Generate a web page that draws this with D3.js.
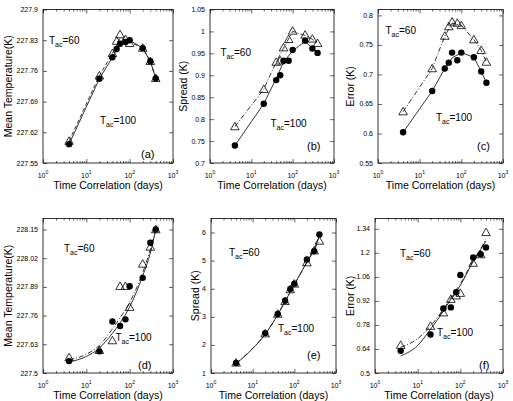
<!DOCTYPE html>
<html>
<head>
<meta charset="utf-8">
<script src="https://cdn.jsdelivr.net/npm/d3@7"></script>
<style>
  body { margin: 0; background: #fff; }
  text { font-family: "Liberation Sans", Arial, Helvetica, sans-serif; fill: #000; }
</style>
</head>
<body>
<div id="chart"></div>
<script>
// x values (days) shared by all panels
var days = [4, 20, 40, 50, 60, 80, 100, 200, 300, 400];
var lineDaysTop = [4, 20, 40, 60, 100, 200, 300, 400];
var lineDaysBottom = [4, 10, 20, 40, 60, 100, 200, 300, 400];
var xTicks = [1, 10, 100, 1000];
var xTickExp = ["0", "1", "2", "3"];

// (a) mean temperature
var tempA100 = [227.593, 227.742, 227.791, 227.81, 227.822, 227.826, 227.83, 227.812, 227.782, 227.743];
var tempA60 = [227.60, 227.749, 227.80, 227.828, 227.843, 227.832, 227.823, 227.812, 227.782, 227.743];
var tempA100Line = [227.593, 227.742, 227.791, 227.822, 227.83, 227.812, 227.782, 227.743];
var tempA60Line = [227.60, 227.749, 227.80, 227.835, 227.826, 227.812, 227.782, 227.743];
var tempTicksA = [227.55, 227.62, 227.69, 227.76, 227.83, 227.9];

// (b) spread
var spreadB100 = [0.740, 0.835, 0.889, 0.900, 0.933, 0.933, 0.958, 0.979, 0.961, 0.951];
var spreadB60 = [0.783, 0.868, 0.930, 0.933, 0.963, 0.982, 1.001, 0.992, 0.983, 0.973];
var spreadB100Line = [0.740, 0.835, 0.893, 0.930, 0.956, 0.977, 0.962, 0.952];
var spreadB60Line = [0.783, 0.868, 0.930, 0.962, 1.000, 0.991, 0.982, 0.973];
var spreadTicksB = [0.7, 0.75, 0.8, 0.85, 0.9, 0.95, 1, 1.05];

// (c) error
var errorC100 = [0.602, 0.672, 0.710, 0.720, 0.737, 0.724, 0.737, 0.729, 0.705, 0.686];
var errorC60 = [0.637, 0.710, 0.765, 0.781, 0.789, 0.787, 0.783, 0.759, 0.741, 0.721];
var errorC100Line = [0.602, 0.672, 0.710, 0.728, 0.737, 0.729, 0.705, 0.686];
var errorC60Line = [0.637, 0.710, 0.765, 0.787, 0.783, 0.759, 0.741, 0.721];
var errorTicksC = [0.55, 0.6, 0.65, 0.7, 0.75, 0.8];

// (d) mean temperature
var tempD100 = [227.554, 227.598, 227.733, null, 227.713, 227.743, 227.893, 227.931, 228.09, 228.15];
var tempD60 = [227.57, 227.603, 227.647, null, 227.893, 227.893, 227.798, 227.994, 228.071, 228.15];
var tempD100Fit = [227.55, 227.575, 227.613, 227.68, 227.727, 227.80, 227.94, 228.044, 228.15];
var tempD60Fit = [227.56, 227.585, 227.625, 227.70, 227.75, 227.82, 227.955, 228.06, 228.15];
var tempTicksD = [227.5, 227.63, 227.76, 227.89, 228.02, 228.15];

// (e) spread
var spreadE100 = [1.36, 2.42, 3.10, null, 3.57, 3.99, 4.18, 5.04, 5.34, 5.93];
var spreadE60 = [1.36, 2.40, 3.10, null, 3.55, 3.97, 4.17, 4.93, 5.35, 5.70];
var spreadE100Fit = [1.33, 1.87, 2.38, 3.08, 3.55, 4.15, 4.95, 5.42, 5.86];
var spreadE60Fit = [1.34, 1.88, 2.38, 3.08, 3.55, 4.14, 4.93, 5.38, 5.72];
var spreadTicksE = [1, 2, 3, 4, 5, 6];

// (f) error
var errorF100 = [0.629, 0.724, 0.876, null, 0.882, 0.970, 1.071, 1.173, 1.192, 1.231];
var errorF60 = [0.662, 0.773, 0.851, null, 0.930, 0.950, 0.965, 1.140, 1.190, 1.319];
var errorF100Fit = [0.60, 0.66, 0.755, 0.86, 0.93, 1.01, 1.15, 1.22, 1.27];
var errorF60Fit = [0.65, 0.70, 0.775, 0.87, 0.94, 1.02, 1.155, 1.225, 1.28];
var errorTicksF = [0.5, 0.64, 0.78, 0.92, 1.06, 1.2, 1.34];

// layout of the six panels
var panels = [
  { tag: "(a)", left: 43, right: 173, top: 9.5, bottom: 163, yDomain: [227.55, 227.9], yTicks: tempTicksA,
    yLabel: "Mean Temperature(K)", yLabelX: 8, v100: tempA100, v60: tempA60, lineX: lineDaysTop,
    l100: tempA100Line, l60: tempA60Line, dash: "4,2.5", smooth: false,
    t60: [49, 44], t100: [100, 124], tagPos: [141, 158] },
  { tag: "(b)", left: 210, right: 334, top: 9.5, bottom: 163, yDomain: [0.7, 1.05], yTicks: spreadTicksB,
    yLabel: "Spread (K)", yLabelX: 183, v100: spreadB100, v60: spreadB60, lineX: lineDaysTop,
    l100: spreadB100Line, l60: spreadB60Line, dash: "5,2,1,2", smooth: false,
    t60: [220.5, 56], t100: [270.5, 127], tagPos: [307, 150] },
  { tag: "(c)", left: 378, right: 503, top: 9.5, bottom: 163, yDomain: [0.55, 0.81], yTicks: errorTicksC,
    yLabel: "Error (K)", yLabelX: 350, v100: errorC100, v60: errorC60, lineX: lineDaysTop,
    l100: errorC100Line, l60: errorC60Line, dash: "5,2,1,2", smooth: false,
    t60: [385.5, 34], t100: [436, 121], tagPos: [477, 150] },
  { tag: "(d)", left: 43, right: 173, top: 218.5, bottom: 373, yDomain: [227.5, 228.2], yTicks: tempTicksD,
    yLabel: "Mean Temperature(K)", yLabelX: 8, v100: tempD100, v60: tempD60, lineX: lineDaysBottom,
    l100: tempD100Fit, l60: tempD60Fit, dash: "5,2,1,2", smooth: true,
    t60: [64, 252], t100: [115.5, 341], tagPos: [138, 369] },
  { tag: "(e)", left: 211, right: 336, top: 218.5, bottom: 373, yDomain: [1, 6.5], yTicks: spreadTicksE,
    yLabel: "Spread (K)", yLabelX: 195, v100: spreadE100, v60: spreadE60, lineX: lineDaysBottom,
    l100: spreadE100Fit, l60: spreadE60Fit, dash: "5,2,1,2", smooth: true,
    t60: [229, 256], t100: [278, 332], tagPos: [307, 359] },
  { tag: "(f)", left: 375, right: 503, top: 218.5, bottom: 373, yDomain: [0.5, 1.4], yTicks: errorTicksF,
    yLabel: "Error (K)", yLabelX: 350, v100: errorF100, v60: errorF60, lineX: lineDaysBottom,
    l100: errorF100Fit, l60: errorF60Fit, dash: "5,2,1,2", smooth: true,
    t60: [400, 257], t100: [437, 336], tagPos: [479, 369] }
];

var svg = d3.select("#chart")
  .append("svg")
  .attr("width", 513)
  .attr("height", 401);

function fmt(v) { return String(+v.toFixed(2)); }

function pairs(xs, ys) {
  return xs.map(function (d, i) { return [d, ys[i]]; })
    .filter(function (d) { return d[1] !== null; });
}

// text like T_ac=60 with a subscript
function tacLabel(g, pos, val) {
  var t = g.append("text").attr("x", pos[0]).attr("y", pos[1]).attr("font-size", 10);
  t.append("tspan").text("T");
  t.append("tspan").attr("font-size", 7).attr("dy", 3).text("ac");
  t.append("tspan").attr("dy", -3).text("=" + val);
}

function drawPanel(p) {
  var x = d3.scaleLog().domain([1, 1000]).range([p.left, p.right]);
  var y = d3.scaleLinear().domain(p.yDomain).range([p.bottom, p.top]);
  var minor = x.ticks().filter(function (d) { return xTicks.indexOf(d) < 0; });
  var g = svg.append("g");

  // inward ticks on all four sides
  function ticks(axis, tr) {
    g.append("g")
      .attr("transform", tr)
      .call(axis)
      .call(function (s) {
        s.select(".domain").remove();
        s.selectAll("text").remove();
        s.selectAll("line").attr("stroke-width", 0.6);
      });
  }
  ticks(d3.axisBottom(x).tickValues(xTicks).tickSize(-4), "translate(0," + p.bottom + ")");
  ticks(d3.axisBottom(x).tickValues(minor).tickSize(-2), "translate(0," + p.bottom + ")");
  ticks(d3.axisTop(x).tickValues(xTicks).tickSize(-4), "translate(0," + p.top + ")");
  ticks(d3.axisTop(x).tickValues(minor).tickSize(-2), "translate(0," + p.top + ")");
  ticks(d3.axisLeft(y).tickValues(p.yTicks).tickSize(-4), "translate(" + p.left + ",0)");
  ticks(d3.axisRight(y).tickValues(p.yTicks).tickSize(-4), "translate(" + p.right + ",0)");

  // box
  g.append("rect")
    .attr("x", p.left).attr("y", p.top)
    .attr("width", p.right - p.left).attr("height", p.bottom - p.top)
    .attr("fill", "none").attr("stroke", "#000").attr("stroke-width", 0.8);

  // x tick labels 10^n
  var xl = g.selectAll(".xl").data(xTicks).enter().append("text")
    .attr("x", function (d) { return x(d); })
    .attr("y", p.bottom + 14.5)
    .attr("text-anchor", "middle")
    .attr("font-size", 7);
  xl.append("tspan").text("10");
  xl.append("tspan").attr("font-size", 5).attr("dy", -4)
    .text(function (d, i) { return xTickExp[i]; });

  // y tick labels
  g.selectAll(".yl").data(p.yTicks).enter().append("text")
    .attr("x", p.left - 5)
    .attr("y", function (d) { return y(d) + 2.5; })
    .attr("text-anchor", "end")
    .attr("font-size", 7)
    .text(fmt);

  // axis titles
  g.append("text")
    .attr("x", (p.left + p.right) / 2)
    .attr("y", p.bottom + 25.5)
    .attr("text-anchor", "middle")
    .attr("font-size", 10.5)
    .text("Time Correlation (days)");
  g.append("text")
    .attr("transform", "translate(" + (p.yLabelX + 4) + "," + (p.top + p.bottom) / 2 + ") rotate(-90)")
    .attr("text-anchor", "middle")
    .attr("font-size", 10.5)
    .text(p.yLabel);

  // lines: solid for Tac=100, dashed for Tac=60
  var line = d3.line()
    .x(function (d) { return x(d[0]); })
    .y(function (d) { return y(d[1]); })
    .curve(p.smooth ? d3.curveMonotoneX : d3.curveLinear);
  g.append("path").datum(pairs(p.lineX, p.l100))
    .attr("d", line).attr("fill", "none").attr("stroke", "#000").attr("stroke-width", 0.8);
  g.append("path").datum(pairs(p.lineX, p.l60))
    .attr("d", line).attr("fill", "none").attr("stroke", "#000").attr("stroke-width", 0.8)
    .attr("stroke-dasharray", p.dash);

  // open triangles (Tac=60)
  g.selectAll(".tri").data(pairs(days, p.v60)).enter().append("path")
    .attr("d", "M0,-4.3L4.3,3.2L-4.3,3.2Z")
    .attr("transform", function (d) { return "translate(" + x(d[0]) + "," + y(d[1]) + ")"; })
    .attr("fill", "none").attr("stroke", "#000").attr("stroke-width", 0.8);

  // filled circles (Tac=100)
  g.selectAll(".dot").data(pairs(days, p.v100)).enter().append("circle")
    .attr("cx", function (d) { return x(d[0]); })
    .attr("cy", function (d) { return y(d[1]); })
    .attr("r", 3.2)
    .attr("fill", "#000");

  // annotations
  tacLabel(g, p.t60, 60);
  tacLabel(g, p.t100, 100);
  g.append("text")
    .attr("x", p.tagPos[0]).attr("y", p.tagPos[1])
    .attr("font-size", 11)
    .text(p.tag);
}

panels.forEach(drawPanel);
</script>
</body>
</html>
